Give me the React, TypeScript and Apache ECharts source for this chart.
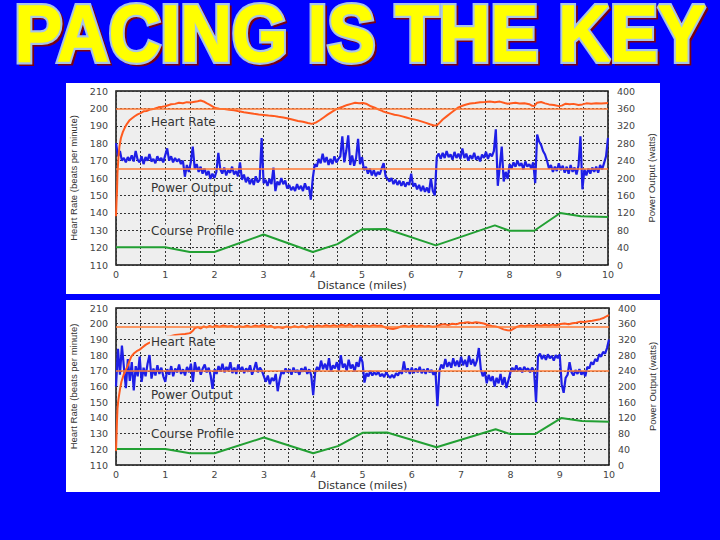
import React, { useEffect, useRef } from "react";
import * as echarts from "echarts";

const TITLE = "PACING IS THE KEY";
const X_NAME = "Distance (miles)";
const HR_NAME = "Heart Rate (beats per minute)";
const PW_NAME = "Power Output (watts)";
const SERIES_LABELS = ["Heart Rate", "Power Output", "Course Profile"];

// power samples every 0.04 mile, watts
const POWER_STEP = 0.04;
const topPower = [
  280, 250, 262, 240, 246, 236, 248, 240, 252, 238, 262, 242, 236, 250, 232, 248, 240, 255, 238, 244, 234, 250, 240, 246, 236,
  252, 268, 240, 250, 236, 246, 238, 244, 232, 240, 203, 230, 214, 236, 272, 222, 232, 214, 226, 210, 222, 206, 216, 198, 210,
  200, 214, 258, 220, 210, 224, 206, 218, 212, 226, 208, 216, 204, 236, 196, 208, 190, 202, 186, 198, 184, 204, 190, 196, 292,
  188, 196, 182, 198, 186, 224, 170, 192, 184, 200, 186, 194, 176, 184, 172, 180, 170, 186, 174, 182, 170, 188, 174, 180, 150,
  200, 232, 226, 244, 234, 256, 236, 248, 230, 244, 232, 250, 236, 244, 250, 296, 236, 262, 298, 230, 252, 228, 246, 290, 232,
  248, 218, 226, 210, 222, 206, 218, 204, 214, 208, 222, 234, 204, 198, 192, 200, 186, 196, 184, 194, 182, 192, 180, 190, 184,
  210, 180, 188, 174, 184, 170, 182, 168, 178, 166, 199, 170, 160, 248, 256, 244, 258, 246, 262, 248, 254, 242, 260, 246, 256,
  244, 268, 246, 256, 240, 252, 244, 258, 242, 250, 238, 254, 246, 260, 244, 256, 250, 262, 312, 182, 226, 272, 192, 214, 198,
  232, 222, 236, 226, 240, 228, 234, 220, 238, 226, 232, 222, 236, 188, 300, 284, 276, 262, 254, 240, 222, 230, 214, 226, 216,
  234, 218, 228, 212, 226, 210, 230, 214, 224, 208, 228, 296, 174, 220, 206, 222, 210, 224, 214, 226, 212, 230, 220, 234, 250, 292,
];
const bottomPower = [
  200, 296, 230, 304, 250, 196, 270, 214, 262, 190, 252, 226, 276, 212, 248, 226, 258, 280, 220, 246, 228, 254, 232, 248, 226,
  212, 244, 230, 252, 226, 246, 236, 256, 232, 244, 228, 250, 236, 258, 212, 262, 238, 250, 230, 246, 256, 236, 248, 228, 192,
  244, 232, 252, 238, 258, 236, 250, 240, 262, 234, 248, 232, 256, 240, 250, 234, 246, 238, 254, 230, 244, 262, 236, 248, 240,
  226, 212, 228, 206, 222, 214, 232, 188, 218, 240, 232, 246, 236, 244, 230, 248, 236, 242, 230, 246, 238, 250, 232, 244, 228,
  178, 236, 250, 240, 266, 244, 258, 242, 272, 238, 254, 246, 262, 240, 280, 248, 258, 240, 268, 246, 256, 238, 262, 250, 276,
  262, 210, 234, 226, 240, 228, 236, 230, 238, 226, 232, 224, 236, 228, 222, 230, 222, 234, 228, 240, 232, 264, 236, 246, 232,
  248, 234, 246, 236, 250, 234, 244, 232, 246, 236, 242, 230, 238, 150, 240, 256, 246, 270, 250, 262, 248, 272, 252, 266, 250,
  276, 254, 268, 250, 278, 256, 270, 252, 266, 298, 244, 226, 238, 208, 230, 214, 226, 200, 222, 208, 232, 204, 224, 196, 216,
  236, 248, 238, 254, 240, 248, 236, 250, 242, 246, 236, 248, 240, 160, 276, 284, 270, 280, 268, 282, 272, 278, 266, 280, 272,
  282, 206, 184, 222, 230, 262, 236, 228, 242, 232, 244, 230, 238, 226, 250, 246, 262, 256, 270, 264, 282, 276, 288, 284, 298, 320,
];

// [miles, beats per minute]
const topHeartRate = [
  [0, 138], [0.01, 146], [0.02, 152], [0.03, 163], [0.05, 172], [0.07, 178], [0.1, 183], [0.14, 186.5], [0.18, 189],
  [0.22, 191], [0.27, 193], [0.32, 194.2], [0.38, 195.5], [0.44, 196.6], [0.5, 197.3], [0.56, 198.3], [0.62, 198.5],
  [0.7, 199.4], [0.78, 199.8], [0.86, 200.6], [0.94, 200.9], [1.0, 201.2], [1.06, 201.8], [1.12, 202.4], [1.2, 202.6],
  [1.28, 203.2], [1.36, 203], [1.44, 203.6], [1.52, 203.4], [1.6, 203.8], [1.66, 204.1], [1.72, 204.5], [1.78, 204],
  [1.84, 203], [1.9, 202.2], [1.96, 201.2], [2.02, 200.2], [2.1, 199.8], [2.2, 199.6], [2.3, 199.2], [2.4, 198.9],
  [2.5, 198.3], [2.6, 197.8], [2.7, 197.4], [2.8, 196.9], [2.9, 196.5], [3.0, 196.2], [3.1, 195.9], [3.2, 195.7],
  [3.3, 195.2], [3.4, 194.8], [3.5, 194.2], [3.6, 193.5], [3.7, 192.8], [3.8, 192.3], [3.9, 191.6], [3.98, 191.1],
  [4.06, 191.8], [4.14, 193.2], [4.22, 194.8], [4.3, 196.4], [4.38, 197.9], [4.46, 199.3], [4.54, 200.3], [4.62, 201.1],
  [4.7, 202], [4.78, 202.6], [4.86, 203.2], [4.94, 202.9], [5.02, 203.1], [5.1, 202.5], [5.18, 201.2], [5.26, 200.4],
  [5.34, 199.3], [5.42, 198.4], [5.5, 197.6], [5.58, 197], [5.66, 196.4], [5.74, 196], [5.82, 195.4], [5.9, 194.8],
  [5.98, 194.1], [6.06, 193.7], [6.14, 193.1], [6.22, 192.4], [6.3, 191.7], [6.38, 190.9], [6.46, 190.2], [6.52, 190.3],
  [6.58, 191.8], [6.64, 193.6], [6.72, 195.4], [6.8, 197.2], [6.88, 198.9], [6.96, 200.6], [7.04, 201.5], [7.12, 202.2],
  [7.2, 202.8], [7.3, 203.1], [7.4, 203.5], [7.5, 203.7], [7.6, 204], [7.7, 203.6], [7.8, 203.9], [7.9, 203.1],
  [7.96, 202.7], [8.04, 203], [8.12, 203.2], [8.2, 202.8], [8.3, 203], [8.4, 202.4], [8.46, 201.5], [8.5, 201.3],
  [8.56, 203.3], [8.64, 203.7], [8.72, 202.9], [8.8, 202.3], [8.9, 202], [9.0, 201.3], [9.06, 201.6], [9.14, 202.7],
  [9.22, 202.4], [9.3, 202.6], [9.4, 202], [9.48, 202.3], [9.56, 202.9], [9.66, 202.7], [9.76, 203], [9.86, 202.8],
  [9.94, 203], [10, 203.1],
];
const bottomHeartRate = [
  [0, 119], [0.01, 128], [0.02, 138], [0.03, 146], [0.05, 152], [0.08, 158], [0.11, 163], [0.15, 167], [0.19, 170],
  [0.23, 172.5], [0.27, 176], [0.31, 179], [0.36, 181], [0.42, 182.5], [0.48, 183.5], [0.54, 185], [0.6, 186.5],
  [0.66, 187.6], [0.8, 189.5], [0.95, 191], [1.1, 192], [1.2, 192.8], [1.3, 193.2], [1.4, 193.5], [1.5, 194],
  [1.56, 195.5], [1.6, 197.2], [1.66, 197.8], [1.72, 196.9], [1.78, 198.3], [1.84, 197.6], [1.9, 198.6], [1.96, 197.8],
  [2.02, 198.8], [2.1, 198.1], [2.18, 198.9], [2.26, 198.2], [2.34, 198.6], [2.42, 197.7], [2.5, 198.4], [2.58, 197.9],
  [2.66, 198.7], [2.74, 198], [2.82, 198.8], [2.9, 198.3], [2.98, 199.2], [3.06, 198.1], [3.14, 198.6], [3.22, 197.4],
  [3.3, 197.9], [3.38, 197.2], [3.46, 198.3], [3.54, 197.5], [3.62, 198.4], [3.7, 197.7], [3.78, 198.5], [3.86, 197.6],
  [3.94, 198.7], [4.02, 198.1], [4.1, 198.8], [4.18, 198.2], [4.26, 199], [4.34, 198.4], [4.42, 199.1], [4.5, 198.3],
  [4.58, 199.3], [4.66, 198.5], [4.74, 199.5], [4.82, 198.2], [4.9, 198.9], [4.98, 198.4], [5.06, 198.9], [5.14, 198.3],
  [5.22, 199.1], [5.3, 198.5], [5.38, 198.8], [5.46, 197.6], [5.54, 197], [5.62, 196.6], [5.7, 197.3], [5.78, 198.2],
  [5.86, 198.7], [5.94, 198.1], [6.02, 198.8], [6.1, 198.2], [6.18, 198.9], [6.26, 198.3], [6.34, 198.6], [6.42, 198],
  [6.5, 198.4], [6.58, 199.3], [6.66, 199.7], [6.74, 199.1], [6.82, 200], [6.9, 199.6], [6.98, 200.4], [7.06, 200.6],
  [7.14, 200.9], [7.22, 200.5], [7.3, 200.9], [7.38, 200.6], [7.46, 200.1], [7.54, 199.2], [7.62, 198.6], [7.7, 198.3],
  [7.78, 197.5], [7.86, 196.4], [7.94, 195.8], [8.0, 195.6], [8.06, 196.7], [8.14, 198.1], [8.22, 198.8], [8.3, 198.4],
  [8.38, 199], [8.46, 198.6], [8.54, 199.2], [8.62, 198.7], [8.7, 199.3], [8.78, 198.8], [8.86, 199.4], [8.94, 199],
  [9.02, 199.8], [9.1, 200.1], [9.18, 199.7], [9.26, 200.3], [9.34, 200.6], [9.42, 201.3], [9.5, 201.1], [9.58, 201.6],
  [9.66, 201.9], [9.74, 202.4], [9.82, 202.9], [9.9, 203.8], [9.96, 204.9], [10, 205.5],
];
// course elevation profile drawn on the heart-rate scale
const courseProfile = [
  [0, 120.2], [1, 120.2], [1.5, 117.5], [2, 117.5], [3, 127.5], [4, 117.5], [4.5, 122], [5, 130.5], [5.5, 130.7],
  [6.5, 121.3], [7.7, 132.8], [8, 129.7], [8.5, 129.7], [9.03, 139.9], [9.45, 138], [10, 137.6],
];
const refHeartRate = [199.7, 198];
const refPower = [221, 240];

const powerSets = [topPower, bottomPower];
const hrSets = [topHeartRate, bottomHeartRate];

const HR_COLOR = "#ff5a1e";
const REF_COLOR = "#ff7a35";
const PW_COLOR = "#1e1ee6";
const COURSE_COLOR = "#22a033";
const PLOT_BG = "#eeeeee";

const GRIDS = [
  { left: 116, top: 91, width: 492, height: 174 },
  { left: 116, top: 308, width: 493, height: 157 },
];
const PANELS = [
  { x: 66, y: 83, width: 594, height: 211 },
  { x: 66, y: 300, width: 594, height: 192 },
];
const LABEL_Y = [
  [121.5, 188, 230.5],
  [341.5, 395, 434],
];

function buildOption() {
  const xAxis: any[] = [];
  const yAxis: any[] = [];
  const series: any[] = [];
  const graphic: any[] = [];

  const tickFont = { color: "#444", fontFamily: "DejaVu Sans", fontSize: 9.5 };
  const dotted = { color: "#333", type: [2, 2], width: 1 };

  PANELS.forEach((p) => {
    graphic.push({
      type: "rect",
      z: -10,
      silent: true,
      shape: { x: p.x, y: p.y, width: p.width, height: p.height },
      style: { fill: "#ffffff" },
    });
  });

  GRIDS.forEach((g, k) => {
    xAxis.push({
      type: "value",
      gridIndex: k,
      min: 0,
      max: 10,
      interval: 0.5,
      name: X_NAME,
      nameLocation: "middle",
      nameGap: 13,
      nameTextStyle: { color: "#333", fontFamily: "DejaVu Sans", fontSize: 11, verticalAlign: "top" },
      axisLine: { show: false },
      axisTick: { show: false },
      axisLabel: {
        ...tickFont,
        margin: 4,
        formatter: (v: number) => (Math.abs(v - Math.round(v)) < 1e-6 ? String(Math.round(v)) : ""),
      },
      splitLine: { show: true, lineStyle: dotted },
    });
    yAxis.push({
      type: "value",
      gridIndex: k,
      position: "left",
      min: 110,
      max: 210,
      interval: 10,
      name: HR_NAME,
      nameLocation: "middle",
      nameRotate: 90,
      nameGap: 32,
      nameTextStyle: { color: "#333", fontFamily: "Liberation Sans", fontSize: 9.5 },
      axisLine: { show: false },
      axisTick: { show: false },
      axisLabel: { ...tickFont, margin: 8 },
      splitLine: { show: true, lineStyle: dotted },
    });
    yAxis.push({
      type: "value",
      gridIndex: k,
      position: "right",
      min: 0,
      max: 400,
      interval: 40,
      name: PW_NAME,
      nameLocation: "middle",
      nameRotate: 90,
      nameGap: 27,
      nameTextStyle: { color: "#333", fontFamily: "Liberation Sans", fontSize: 9.5 },
      axisLine: { show: false },
      axisTick: { show: false },
      axisLabel: { ...tickFont, margin: 9 },
      splitLine: { show: false },
    });

    const base = {
      type: "line",
      xAxisIndex: k,
      showSymbol: false,
      symbol: "none",
      silent: true,
      clip: true,
    };
    series.push({
      ...base,
      name: "Course Profile " + k,
      yAxisIndex: k * 2,
      data: courseProfile,
      lineStyle: { color: COURSE_COLOR, width: 2 },
      z: 2,
    });
    series.push({
      ...base,
      name: "Power Output " + k,
      yAxisIndex: k * 2 + 1,
      data: powerSets[k].map((w, i) => [Number((i * POWER_STEP).toFixed(2)), w]),
      lineStyle: { color: PW_COLOR, width: 2.2 },
      z: 3,
      markLine: {
        silent: true,
        symbol: "none",
        label: { show: false },
        lineStyle: { color: REF_COLOR, width: 1.5, type: "solid" },
        data: [{ yAxis: refPower[k] }],
      },
    });
    series.push({
      ...base,
      name: "Heart Rate " + k,
      yAxisIndex: k * 2,
      data: hrSets[k],
      lineStyle: { color: HR_COLOR, width: 2 },
      z: 4,
      markLine: {
        silent: true,
        symbol: "none",
        label: { show: false },
        lineStyle: { color: REF_COLOR, width: 1.5, type: "solid" },
        data: [{ yAxis: refHeartRate[k] }],
      },
    });

    SERIES_LABELS.forEach((label, j) => {
      graphic.push({
        type: "text",
        z: 50,
        silent: true,
        x: 150,
        y: LABEL_Y[k][j],
        style: {
          text: label,
          font: '12px "DejaVu Sans"',
          fill: "#333",
          backgroundColor: PLOT_BG,
          padding: [0, 1],
          textAlign: "left",
          align: "left",
          textVerticalAlign: "middle",
          verticalAlign: "middle",
        },
      });
    });
  });

  const titleStyle = {
    text: TITLE,
    font: 'bold 80px "Liberation Sans", Arial, sans-serif',
    textAlign: "center",
    align: "center",
    textVerticalAlign: "middle",
    verticalAlign: "middle",
  };
  graphic.push({
    type: "group",
    x: 360,
    y: 33,
    scaleX: 0.895,
    z: 100,
    children: [
      { type: "text", z: 100, x: 2.5, y: 2, style: { ...titleStyle, fill: "#7a0010", stroke: "#7a0010", lineWidth: 5 } },
      { type: "text", z: 101, style: { ...titleStyle, fill: "#a8c4e8", stroke: "#a8c4e8", lineWidth: 6 } },
      { type: "text", z: 102, style: { ...titleStyle, fill: "#ffff00", stroke: "#ffff00", lineWidth: 1.5 } },
    ],
  });

  return {
    animation: false,
    backgroundColor: "#0000ff",
    grid: GRIDS.map((g) => ({
      ...g,
      show: true,
      backgroundColor: PLOT_BG,
      borderColor: "#111",
      borderWidth: 1.5,
      containLabel: false,
    })),
    xAxis,
    yAxis,
    series,
    graphic,
  };
}

export default function App() {
  const ref = useRef<HTMLDivElement | null>(null);
  useEffect(() => {
    if (!ref.current) return;
    const chart = echarts.init(ref.current, undefined, { renderer: "svg" });
    chart.setOption(buildOption() as any);
    return () => chart.dispose();
  }, []);
  return (
    <div
      ref={ref}
      style={{ position: "absolute", left: 0, top: 0, width: 720, height: 540 }}
    />
  );
}
